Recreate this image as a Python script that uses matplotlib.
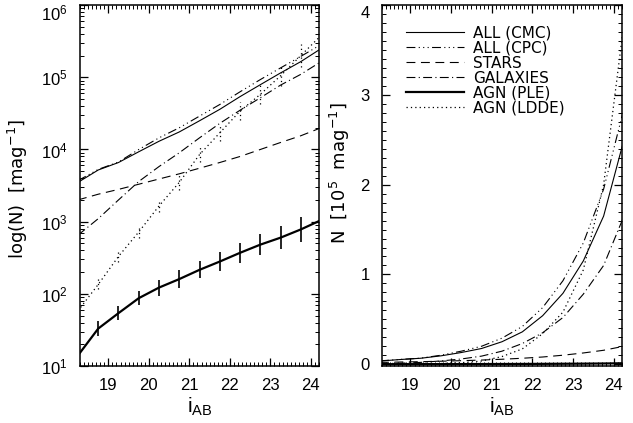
import numpy as np
import matplotlib
matplotlib.use('Agg')
import matplotlib.pyplot as plt
import matplotlib.transforms as mtransforms
from matplotlib.ticker import MultipleLocator, LogLocator, NullFormatter, FixedLocator

plt.rcParams['font.family'] = ['Liberation Sans', 'DejaVu Sans']
plt.rcParams['mathtext.default'] = 'regular'

# magnitude bins
mag = [18.25, 18.75, 19.25, 19.75, 20.25, 20.75, 21.25, 21.75, 22.25, 22.75, 23.25, 23.75, 24.25]

# counts per mag
all_cmc = [3.5e3, 5.2e3, 6.6e3, 9.3e3, 1.3e4, 1.75e4, 2.5e4, 3.6e4, 5.4e4, 7.9e4, 1.15e5, 1.65e5, 2.5e5]
all_cpc = [3.7e3, 5.3e3, 6.7e3, 1.0e4, 1.45e4, 2.0e4, 2.9e4, 4.2e4, 6.3e4, 9.3e4, 1.35e5, 1.95e5, 2.85e5]
stars = [2.0e3, 2.4e3, 2.8e3, 3.3e3, 3.9e3, 4.6e3, 5.5e3, 6.6e3, 8.0e3, 1.0e4, 1.25e4, 1.55e4, 2.0e4]
galaxies = [650, 1.1e3, 2.0e3, 3.6e3, 5.8e3, 9.0e3, 1.45e4, 2.3e4, 3.5e4, 5.2e4, 7.8e4, 1.1e5, 1.65e5]
agn_ple = [14, 33, 54, 87, 122, 160, 215, 280, 370, 480, 600, 780, 1050]
agn_ldde = [58, 135, 330, 720, 1.65e3, 3.5e3, 8.5e3, 1.7e4, 3.4e4, 5.8e4, 1.05e5, 2.0e5, 3.8e5]

# error bars (dex) at the inner bins 18.75 .. 23.75
ple_err = [0.1, 0.1, 0.1, 0.11, 0.12, 0.12, 0.13, 0.14, 0.15, 0.16, 0.17]
ldde_err = [0.07, 0.08, 0.08, 0.09, 0.1, 0.1, 0.11, 0.12, 0.13, 0.14, 0.16]

labels = ['ALL (CMC)', 'ALL (CPC)', 'STARS', 'GALAXIES', 'AGN (PLE)', 'AGN (LDDE)']
styles = ['-', (0, (8, 3, 1, 3, 1, 3, 1, 3)), (0, (8, 5)), (0, (8, 3, 1, 3)), '-', (0, (1, 2.5))]
widths = [0.8, 0.8, 0.8, 0.8, 1.6, 0.9]

fig = plt.figure(figsize=(6.33, 4.23), dpi=100)
ax1 = fig.add_axes([0.1264, 0.1348, 0.3776, 0.853])
ax2 = fig.add_axes([0.6035, 0.1348, 0.379, 0.853])

series = [all_cmc, all_cpc, stars, galaxies, agn_ple, agn_ldde]

# left: log scale
for s, ls, lw in zip(series, styles, widths):
    ax1.plot(mag, s, color='k', ls=ls, lw=lw)
x_in = np.array(mag[1:-1])
y = np.array(agn_ple[1:-1])
e = np.array(ple_err)
ax1.errorbar(x_in, y, yerr=[y - y * 10**-e, y * 10**e - y], fmt='none', ecolor='k', elinewidth=1.2, capsize=0)
y = np.array(agn_ldde[1:-1])
e = np.array(ldde_err)
eb = ax1.errorbar(x_in, y, yerr=[y - y * 10**-e, y * 10**e - y], fmt='none', ecolor='k', elinewidth=0.9, capsize=0)
eb[2][0].set_linestyle((0, (1, 2.5)))

ax1.set_yscale('log')
ax1.set_ylim(10, 1e6)
ax1.yaxis.set_major_locator(FixedLocator([1e1, 1e2, 1e3, 1e4, 1e5, 1e6]))
ax1.yaxis.set_minor_locator(LogLocator(base=10, subs=np.arange(2, 10), numticks=10))
ax1.yaxis.set_minor_formatter(NullFormatter())
ax1.set_ylabel('log(N)  [mag$^{-1}$]', fontsize=13, family='DejaVu Sans')
ax1.yaxis.set_label_coords(-0.21, 0.49)

# right: linear, 1e5 units
for s, ls, lw, lab in zip(series, styles, widths, labels):
    ax2.plot(mag, np.array(s) / 1e5, color='k', ls=ls, lw=lw, label=lab)
ax2.set_ylim(-0.02, 4.0)
ax2.yaxis.set_major_locator(FixedLocator([0, 1, 2, 3, 4]))
ax2.yaxis.set_minor_locator(MultipleLocator(0.1))
ax2.set_ylabel('N  [10$^5$  mag$^{-1}$]', fontsize=13, family='DejaVu Sans')
ax2.yaxis.set_label_coords(-0.125, 0.535)

leg = ax2.legend(loc='upper left', bbox_to_anchor=(0.1, 0.943), frameon=False,
                 prop={'family': 'DejaVu Sans', 'size': 11},
                 handlelength=3.8, handletextpad=0.6, labelspacing=0.0, borderpad=0, borderaxespad=0)

for ax in (ax1, ax2):
    ax.set_xlim(18.3, 24.2)
    ax.xaxis.set_major_locator(MultipleLocator(1))
    ax.xaxis.set_minor_locator(MultipleLocator(0.1))
    ax.set_xlabel('i$_{AB}$', fontsize=15)
    ax.xaxis.set_label_coords(0.5, -0.082)
    ax.tick_params(which='both', direction='in', top=True, right=True, labelsize=12)
    ax.tick_params(which='major', length=6, width=0.9)
    ax.tick_params(axis='x', which='major', pad=9)
    ax.tick_params(axis='y', which='major', pad=9)
    ax.tick_params(which='minor', length=3, width=0.7)
    for sp in ax.spines.values():
        sp.set_linewidth(1.1)

# top tick labels sit a little lower, inside the figure
shift = mtransforms.ScaledTranslation(0, -7 / 100, fig.dpi_scale_trans)
for ax in (ax1, ax2):
    top = ax.yaxis.get_major_ticks()[-1]
    top.label1.set_transform(top.label1.get_transform() + shift)

plt.savefig('out.png', dpi=100)
